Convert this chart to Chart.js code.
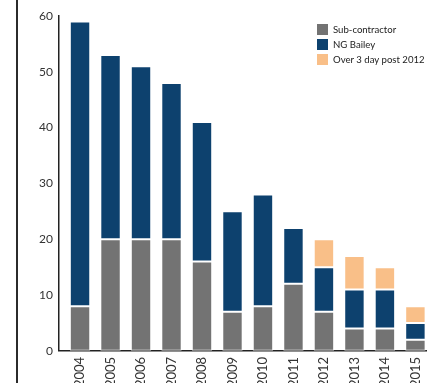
<!DOCTYPE html>
<html>
<head>
<meta charset="utf-8">
<script src="https://cdn.jsdelivr.net/npm/chart.js@4"></script>
<style>
  html, body { margin: 0; padding: 0; background: #fff; overflow: hidden; }
  #wrap { position: relative; width: 427px; height: 383px; overflow: hidden; }
  #c { display: block; }
  #edge { position: absolute; left: 16px; top: 0; width: 1.5px; height: 383px; background: #2b2b2b; }
  #legend { position: absolute; left: 317px; top: 22px; font-family: Lato, "Noto Sans", sans-serif; font-size: 9.6px; color: #222; white-space: nowrap; }
  #legend .row { display: flex; align-items: center; height: 15px; }
  #legend .box { width: 11px; height: 11px; margin-right: 5px; flex: none; }
</style>
</head>
<body>
<div id="wrap">
  <div id="edge"></div>
  <canvas id="c" width="427" height="393"></canvas>
  <div id="legend"></div>
</div>
<script>
// Lost-time incidents per year, split by who was involved
const years = [2004, 2005, 2006, 2007, 2008, 2009, 2010, 2011, 2012, 2013, 2014, 2015];
const subContractor = [8, 20, 20, 20, 16, 7, 8, 12, 7, 4, 4, 2];
const ngBailey      = [51, 33, 31, 28, 25, 18, 20, 10, 8, 7, 7, 3];
const over3Day      = [0, 0, 0, 0, 0, 0, 0, 0, 5, 6, 4, 3];
const yTicks = [0, 10, 20, 30, 40, 50, 60];

const toPoints = vals => years.map((yr, i) => ({ x: yr, y: vals[i] }));

const barStyle = { borderColor: '#ffffff', borderWidth: 1, borderSkipped: false, barPercentage: 0.67, categoryPercentage: 1 };

const chart = new Chart(document.getElementById('c'), {
  type: 'bar',
  data: {
    datasets: [
      Object.assign({ label: 'Sub-contractor', data: toPoints(subContractor), backgroundColor: '#737373' }, barStyle),
      Object.assign({ label: 'NG Bailey', data: toPoints(ngBailey), backgroundColor: '#0d416e' }, barStyle),
      Object.assign({ label: 'Over 3 day post 2012', data: toPoints(over3Day), backgroundColor: '#f9bf88' }, barStyle)
    ]
  },
  options: {
    responsive: false,
    animation: false,
    layout: { padding: { top: 16, left: 0, right: 0, bottom: 0 } },
    plugins: { legend: { display: false }, tooltip: { enabled: false } },
    scales: {
      x: {
        type: 'linear',
        stacked: true,
        offset: false,
        min: 2003.31,
        max: 2015.38,
        afterBuildTicks: s => { s.ticks = years.map(v => ({ value: v })); },
        afterFit: s => { s.paddingLeft = 0; s.paddingRight = 0; },
        grid: { display: false, drawTicks: false },
        border: { display: true, color: '#222', width: 1.5 },
        ticks: {
          autoSkip: false, minRotation: 90, maxRotation: 90, padding: 6,
          color: '#333', font: { family: 'Lato', size: 13 },
          callback: v => String(v)
        }
      },
      y: {
        stacked: true,
        min: 0, max: 60,
        afterBuildTicks: s => { s.ticks = yTicks.map(v => ({ value: v })); },
        afterFit: s => { s.width = 59; },
        grid: { display: false, drawTicks: false },
        border: { display: true, color: '#222', width: 1.5 },
        ticks: { padding: 6, color: '#333', font: { family: 'Lato', size: 12 } }
      }
    }
  }
});

// HTML legend built from the datasets
const legend = document.getElementById('legend');
chart.data.datasets.forEach(ds => {
  const row = document.createElement('div');
  row.className = 'row';
  const box = document.createElement('span');
  box.className = 'box';
  box.style.background = ds.backgroundColor;
  const txt = document.createElement('span');
  txt.textContent = ds.label;
  row.appendChild(box);
  row.appendChild(txt);
  legend.appendChild(row);
});
</script>
</body>
</html>
